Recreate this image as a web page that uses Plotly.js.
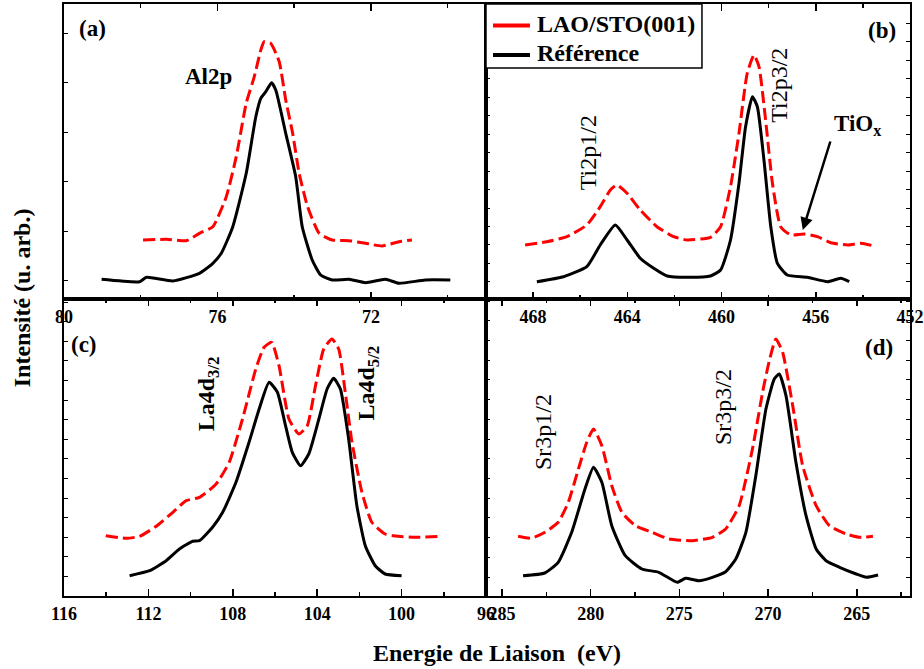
<!DOCTYPE html>
<html>
<head>
<meta charset="utf-8">
<script src="https://cdn.plot.ly/plotly-3.0.1.min.js"></script>
<style>html,body{margin:0;padding:0;background:#fff;}#chart{width:924px;height:669px;}</style>
</head>
<body>
<div id="chart"></div>
<script>
// ---------- Panel (a) Al2p ----------
const a_ref_x = [79.02,78.03,77.85,77.16,76.47,76.12,75.90,75.60,75.25,75.00,74.87,74.74,74.59,74.48,74.22,73.96,73.79,73.53,73.31,73.01,72.57,72.14,71.62,71.27,70.58,69.93];
const a_ref_y = [19.7,17.3,21.7,18,25.7,35.7,45.7,72.3,125.7,182.3,200.7,207.3,216.3,209,165.7,122.3,72.3,39,24,19,19.7,16.3,19.7,15.7,19,19];
const a_lao_x = [77.94,77.33,76.81,76.47,76.12,75.77,75.51,75.25,75.04,74.87,74.78,74.61,74.39,74.22,74.04,73.87,73.65,73.35,73.01,72.57,72.14,71.71,71.27,70.93];
const a_lao_y = [59,59.7,58.3,65.7,72.3,102.3,142.3,195.7,222.3,249,257.3,255.7,237.3,199,165.7,125.7,92.3,65.7,59,58.3,55.7,53,57.3,59];

// ---------- Panel (b) Ti2p ----------
const b_ref_x = [467.84,466.71,465.72,465.15,464.51,464.01,463.45,462.88,462.31,461.46,460.47,460.04,459.62,459.26,458.98,458.69,458.48,458.20,457.91,457.63,457.21,456.36,455.50,454.94,454.58];
const b_ref_y = [17.3,22.3,32.3,54,74,59,40.7,30.7,23,21.7,23,29,59,115.7,172.3,202.3,192.3,139,72.3,35.7,24,21.7,17.3,20.7,17.3];
const b_lao_x = [468.34,467.42,466.57,465.72,465.15,464.72,464.44,464.01,463.45,462.74,462.03,461.46,460.47,460.04,459.62,459.26,458.91,458.62,458.41,458.13,457.84,457.49,457.06,456.50,455.93,455.36,454.65,454.09,453.52];
const b_lao_y = [54,57.3,62.3,74,92.3,109,114,105.7,89,72.3,62.3,59,61.7,72.3,112.3,165.7,225.7,244,232.3,179,115.7,72.3,64,65,62.3,56.3,54,55.7,53];

// ---------- Panel (c) La4d ----------
const c_ref_x = [112.89,111.94,111.16,110.53,109.90,109.58,108.96,108.48,107.85,107.23,106.75,106.28,105.89,105.50,105.18,104.79,104.40,103.92,103.53,103.22,102.90,102.51,102.12,101.72,101.25,100.78,100.0];
const c_ref_y = [20.3,25.3,35.3,47,54.7,55.3,68.7,83.7,113.7,153.7,187,213.7,204,170.3,143.7,130.3,142,177,207,217.7,207,157,90.3,50.3,30.3,22,20.3];
const c_lao_x = [114.02,113.04,112.42,111.63,110.84,110.21,109.58,108.79,108.17,107.54,106.91,106.52,106.16,105.81,105.34,104.87,104.47,104.08,103.69,103.30,102.98,102.67,102.35,101.88,101.41,100.78,100.15,99.36,98.18];
const c_lao_y = [60.3,57.7,59.7,69.7,83.7,95.3,98.7,112,133.7,177,227,248.7,253.7,230.3,177,162,170.3,210.3,247,257,247,203.7,153.7,103.7,73.7,62,59.7,58.7,59.7];

// ---------- Panel (d) Sr3p ----------
const d_ref_x = [283.81,282.58,281.83,281.07,280.32,279.84,279.37,278.81,278.05,277.11,276.16,275.12,274.65,273.90,273.14,272.39,271.82,271.25,270.69,270.12,269.65,269.37,268.99,268.43,267.86,267.29,266.73,265.97,265.03,264.46,263.80];
const d_ref_y = [20.3,23,33.7,63.7,107,128.7,113.7,70.3,40.3,27,23.7,13.7,17.7,15.3,18.7,24.3,37,63.7,120.3,187,217,222,200.3,133.7,80.3,47,35.3,28.7,22,18.7,21];
const d_lao_x = [284.09,283.34,282.58,281.83,281.26,280.69,280.22,279.84,279.37,278.81,278.24,277.48,276.54,275.59,274.27,273.14,272.39,271.63,270.88,270.31,269.93,269.56,269.18,268.61,268.05,267.29,266.54,265.59,264.84,264.09];
const d_lao_y = [59.7,57.7,63.7,73.7,93.7,127,153.7,167,150.3,110.3,83.7,70.3,63.7,57,55.3,58.7,67,90.3,147,203.7,235.3,257,243.7,190.3,130.3,90.3,70.3,62,58.7,59.7];

const seriesNames = ['LAO/STO(001)', 'Référence'];
const xTitle = 'Energie de Liaison\u00A0 (eV)';
const yTitle = 'Intensité (u. arb.)';

const SERIF = 'Liberation Serif, Times New Roman, serif';
const RED = '#ff0000';
const BLACK = '#000000';
const redLine = {color: RED, width: 3, dash: '12px,5px', shape: 'spline', smoothing: 0.5};
const blackLine = {color: BLACK, width: 3, shape: 'spline', smoothing: 0.5};

function pair(xs, ys, line, xa, ya, nm) {
  return {x: xs, y: ys, type: 'scatter', mode: 'lines', name: nm, line: line, xaxis: xa, yaxis: ya, showlegend: false, hoverinfo: 'skip'};
}

const traces = [
  pair(a_lao_x, a_lao_y, redLine, 'x', 'y', seriesNames[0]),
  pair(a_ref_x, a_ref_y, blackLine, 'x', 'y', seriesNames[1]),
  pair(b_lao_x, b_lao_y, redLine, 'x2', 'y2', seriesNames[0]),
  pair(b_ref_x, b_ref_y, blackLine, 'x2', 'y2', seriesNames[1]),
  pair(c_lao_x, c_lao_y, redLine, 'x3', 'y3', seriesNames[0]),
  pair(c_ref_x, c_ref_y, blackLine, 'x3', 'y3', seriesNames[1]),
  pair(d_lao_x, d_lao_y, redLine, 'x4', 'y4', seriesNames[0]),
  pair(d_ref_x, d_ref_y, blackLine, 'x4', 'y4', seriesNames[1])
];

const XS = 0.4988, YS = 0.5017;
const tickfont = {family: SERIF, size: 18, weight: 'bold', color: BLACK};

function xax(domain, anchor, range, dtick, minorD) {
  return {domain: domain, anchor: anchor, range: range, autorange: false,
    showline: true, linecolor: BLACK, linewidth: 2, mirror: 'ticks',
    ticks: 'inside', ticklen: 7, tickwidth: 1.5, tickcolor: BLACK,
    tickmode: 'linear', tick0: 0, dtick: dtick,
    minor: {ticks: 'inside', ticklen: 4, tickwidth: 1.5, tickcolor: BLACK, dtick: minorD, showgrid: false},
    showgrid: false, zeroline: false, tickfont: tickfont, fixedrange: true};
}
function yax(domain, anchor, range, t0, dt, mirror) {
  return {domain: domain, anchor: anchor, range: range, autorange: false,
    showline: true, linecolor: BLACK, linewidth: 2, mirror: mirror,
    ticks: 'inside', ticklen: 4, tickwidth: 1, tickcolor: BLACK,
    tickmode: 'linear', tick0: t0, dtick: dt, showticklabels: false,
    showgrid: false, zeroline: false, fixedrange: true};
}

const lblBold = {family: SERIF, size: 23, weight: 'bold', color: BLACK};
const lblNorm = {family: SERIF, size: 24, color: BLACK};
const lblBold24 = {family: SERIF, size: 24, weight: 'bold', color: BLACK};

function pl(text, x, y, font, extra) {
  return Object.assign({xref: 'paper', yref: 'paper', x: x, y: y, text: text, showarrow: false,
    xanchor: 'center', yanchor: 'middle', font: font}, extra || {});
}
function dl(text, xr, yr, x, y, font, extra) {
  return Object.assign({xref: xr, yref: yr, x: x, y: y, text: text, showarrow: false,
    xanchor: 'center', yanchor: 'middle', font: font}, extra || {});
}

const annotations = [
  pl('(a)', 0.0331, 0.9578, lblBold),
  pl('(b)', 0.9669, 0.9544, lblBold),
  pl('(c)', 0.0236, 0.4240, lblBold),
  pl('(d)', 0.9634, 0.4206, lblBold),
  dl('Al2p', 'x', 'y', 76.23, 223, lblBold),
  dl('Ti2p1/2', 'x2', 'y2', 465.66, 146, lblNorm, {textangle: -90}),
  dl('Ti2p3/2', 'x2', 'y2', 457.57, 214, lblNorm, {textangle: -90}),
  dl('TiO<sub>x</sub>', 'x2', 'y2', 454.21, 174, lblBold),
  {xref: 'x2', yref: 'y2', x: 456.55, y: 69, text: '', showarrow: true, ax: 28, ay: -90,
    arrowhead: 2, arrowsize: 1, arrowwidth: 2.5, arrowcolor: BLACK},
  dl('La4d<sub>3/2</sub>', 'x3', 'y3', 109.16, 202, lblBold24, {textangle: -90}),
  dl('La4d<sub>5/2</sub>', 'x3', 'y3', 101.61, 213, lblBold24, {textangle: -90}),
  dl('Sr3p1/2', 'x4', 'y4', 282.68, 164, lblNorm, {textangle: -90}),
  dl('Sr3p3/2', 'x4', 'y4', 272.54, 189, lblNorm, {textangle: -90}),
  pl(yTitle, -0.0496, 0.503, lblBold24, {textangle: -90}),
  pl(xTitle, 0.5118, -0.0963, lblBold24),
  // legend texts
  pl(seriesNames[0], 0.5567, 0.9662, lblBold24, {xanchor: 'left'}),
  pl(seriesNames[1], 0.5567, 0.9172, lblBold24, {xanchor: 'left'})
];

const shapes = [
  {type: 'rect', xref: 'paper', yref: 'paper', x0: XS, x1: 0.7541, y0: 0.8919, y1: 1,
    line: {color: BLACK, width: 1.5}, fillcolor: '#ffffff', layer: 'above'},
  {type: 'line', xref: 'paper', yref: 'paper', x0: 0.5071, x1: 0.5508, y0: 0.9637, y1: 0.9637,
    line: {color: RED, width: 4}},
  {type: 'line', xref: 'paper', yref: 'paper', x0: 0.5071, x1: 0.5508, y0: 0.9139, y1: 0.9139,
    line: {color: BLACK, width: 4}}
];

const layout = {
  width: 924, height: 669,
  margin: {l: 64, r: 14, t: 4, b: 73},
  paper_bgcolor: '#ffffff', plot_bgcolor: '#ffffff',
  font: {family: SERIF, color: BLACK},
  xaxis: xax([0, XS], 'y', [80, 69], 4, 2),
  xaxis2: xax([XS, 1], 'y2', [470, 452], 4, 2),
  xaxis3: xax([0, XS], 'y3', [116, 96], 4, 2),
  xaxis4: xax([XS, 1], 'y4', [285.9, 262], 5, 2.5),
  yaxis: yax([YS, 1], 'x', [0, 295], 18.3, 49.5, true),
  yaxis2: yax([YS, 1], 'x2', [0, 295], 17, 18.5, 'ticks'),
  yaxis3: yax([0, YS], 'x3', [0, 297], 19.5, 19.6, true),
  yaxis4: yax([0, YS], 'x4', [0, 297], 19, 19.7, 'ticks'),
  showlegend: false,
  shapes: shapes,
  annotations: annotations
};

Plotly.newPlot('chart', traces, layout, {displayModeBar: false, staticPlot: true});
</script>
</body>
</html>
